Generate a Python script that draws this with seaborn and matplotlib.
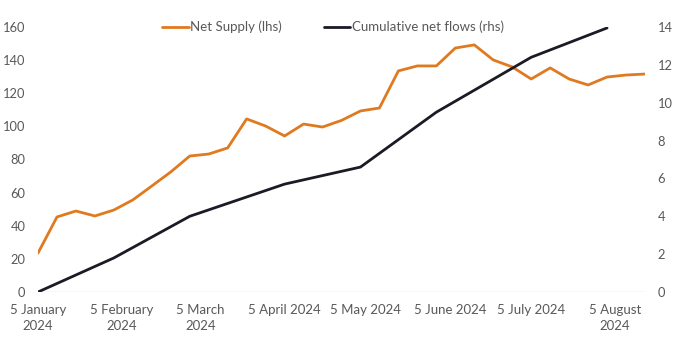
import matplotlib
matplotlib.use("Agg")
import matplotlib.pyplot as plt
import seaborn as sns
import pandas as pd

# ---- data ----
supply_start = "2024-01-05"
supply_values = [23.5, 45.3, 48.9, 45.9, 49.5, 55.6, 64.0, 72.5, 82.1, 83.3, 87.0,
                 104.5, 100.2, 94.2, 101.4, 99.6, 103.6, 109.3, 111.1, 133.5, 136.5,
                 136.5, 147.3, 149.2, 140.1, 135.9, 128.6, 135.3, 128.6, 125.0, 129.8,
                 131.0, 131.6]
flow_dates = ["2024-01-05", "2024-02-02", "2024-03-01", "2024-04-05", "2024-05-03",
              "2024-05-31", "2024-07-05", "2024-08-02"]
flow_values = [0.0, 1.8, 4.0, 5.7, 6.6, 9.5, 12.4, 13.95]
tick_dates = ["2024-01-05", "2024-02-05", "2024-03-05", "2024-04-05", "2024-05-05",
              "2024-06-05", "2024-07-05", "2024-08-05"]
tick_labels = ["5 January\n2024", "5 February\n2024", "5 March\n2024", "5 April 2024",
               "5 May 2024", "5 June 2024", "5 July 2024", "5 August\n2024"]
left_ticks = [0, 20, 40, 60, 80, 100, 120, 140, 160]
right_ticks = [0, 2, 4, 6, 8, 10, 12, 14]

supply_df = pd.DataFrame({
    "date": pd.date_range(supply_start, periods=len(supply_values), freq="7D"),
    "value": supply_values,
})
flow_df = pd.DataFrame({"date": pd.to_datetime(flow_dates), "value": flow_values})

sns.set_theme(style="white")
plt.rcParams["font.family"] = ["Lato", "DejaVu Sans"]

ORANGE = "#E07A20"
DARK = "#1B1B26"
TXT = "#595959"

fig = plt.figure(figsize=(6.8, 3.53), dpi=100)
ax = fig.add_axes([38 / 680, 1 - 292 / 353, (645 - 38) / 680, (292 - 27) / 353])
ax2 = ax.twinx()

sns.lineplot(data=supply_df, x="date", y="value", ax=ax, color=ORANGE, lw=2.0,
             label="Net Supply (lhs)", legend=False)
sns.lineplot(data=flow_df, x="date", y="value", ax=ax2, color=DARK, lw=2.0,
             label="Cumulative net flows (rhs)", legend=False)

ax.set_xlim(supply_df["date"].iloc[0], supply_df["date"].iloc[-1])
ax.set_ylim(0, 160)
ax2.set_ylim(0, 14)
ax.set_yticks(left_ticks)
ax2.set_yticks(right_ticks)
ax.set_xticks(pd.to_datetime(tick_dates))
ax.set_xticklabels(tick_labels, linespacing=1.3)

for a in (ax, ax2):
    for s in a.spines.values():
        s.set_visible(False)
    a.set_xlabel("")
    a.set_ylabel("")
    a.grid(False)
ax.axhline(0, color="#D9D9D9", lw=1.0, zorder=0)

ax.tick_params(axis="x", length=0, pad=9, labelsize=9.5, colors=TXT)
ax.tick_params(axis="y", length=0, pad=9, labelsize=9.3, colors=TXT)
ax2.tick_params(axis="y", length=0, pad=9, labelsize=9.3, colors=TXT)

h1, l1 = ax.get_legend_handles_labels()
h2, l2 = ax2.get_legend_handles_labels()
leg = ax2.legend(h1 + h2, l1 + l2, loc="center", bbox_to_anchor=(0.486, 1.0), ncol=2,
                 frameon=False, fontsize=9.5, handlelength=2.0, handletextpad=0.1,
                 columnspacing=3.2)
for t in leg.get_texts():
    t.set_color(TXT)

fig.savefig("out.png", dpi=100)
